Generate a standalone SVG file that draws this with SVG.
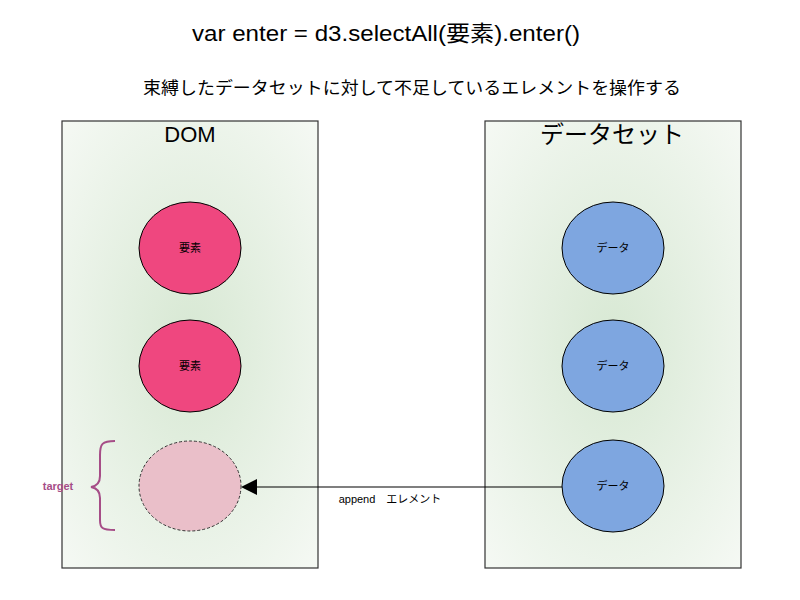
<svg xmlns="http://www.w3.org/2000/svg" width="800" height="600" viewBox="0 0 800 600">
<defs>
<radialGradient id="bg" cx="50%" cy="50%" r="75%">
<stop offset="0" stop-color="#d7e8d3"/>
<stop offset="1" stop-color="#f7faf6"/>
</radialGradient>
<style>
text{font-family:"Liberation Sans","Noto Sans CJK JP",sans-serif;fill:#000;}
.box{fill:url(#bg);stroke:#333;stroke-width:1.2;}
.el{fill:#ef477f;stroke:#000;stroke-width:1;}
.da{fill:#7ea6e0;stroke:#000;stroke-width:1;}
.ghost{fill:#eabfc9;stroke:#333;stroke-width:1;stroke-dasharray:3,2;}
.lbl{font-size:11px;text-anchor:middle;}
</style>
</defs>
<text x="386" y="41" font-size="22" text-anchor="middle" textLength="388" lengthAdjust="spacingAndGlyphs">var enter = d3.selectAll(要素).enter()</text>
<text x="412" y="94" font-size="17" text-anchor="middle" textLength="538" lengthAdjust="spacingAndGlyphs">束縛したデータセットに対して不足しているエレメントを操作する</text>
<g id="dom">
<rect class="box" x="62" y="121" width="256" height="447"/>
<text x="190" y="142" font-size="22" text-anchor="middle">DOM</text>
</g>
<g id="dataset">
<rect class="box" x="485" y="121" width="256" height="447"/>
<text x="612" y="143" font-size="24" text-anchor="middle">データセット</text>
</g>
<g id="el1"><ellipse class="el" cx="190" cy="248" rx="51" ry="46"/><text class="lbl" x="190" y="252">要素</text></g>
<g id="el2"><ellipse class="el" cx="190" cy="366" rx="51" ry="46"/><text class="lbl" x="190" y="370">要素</text></g>
<g id="target"><ellipse class="ghost" cx="190" cy="486" rx="51" ry="45"/></g>
<g id="d1"><ellipse class="da" cx="613" cy="248" rx="51" ry="46"/><text class="lbl" x="613" y="252">データ</text></g>
<g id="d2"><ellipse class="da" cx="613" cy="366" rx="51" ry="46"/><text class="lbl" x="613" y="370">データ</text></g>
<g id="d3"><ellipse class="da" cx="613" cy="486" rx="51" ry="46"/><text class="lbl" x="613" y="490">データ</text></g>
<g id="brace">
<path d="M115,441 C102,441 100,444 100,455 L100,476 C100,483 97,486 91,487 C97,488 100,491 100,498 L100,520 C100,528 102,530 115,530" fill="none" stroke="#a64d87" stroke-width="2"/>
<text x="58" y="490" font-size="11" font-weight="bold" style="fill:#a64d87" text-anchor="middle">target</text>
</g>
<g id="connectors">
<line x1="562" y1="487" x2="257" y2="487" stroke="#000" stroke-width="1.2"/>
<path d="M257,479 L241,487 L257,495 Z" fill="#000"/>
<text x="390" y="503" font-size="11" text-anchor="middle">append　エレメント</text>
</g>
</svg>
